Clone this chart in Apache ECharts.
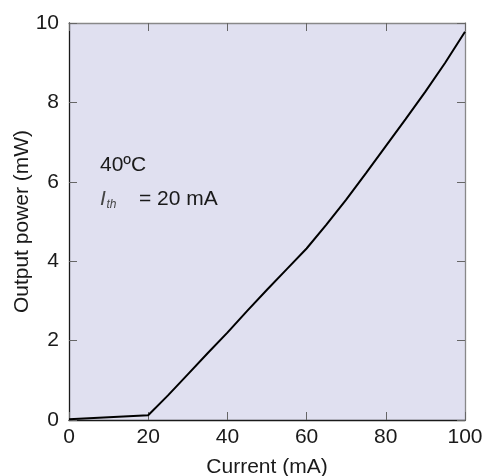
<!DOCTYPE html>
<html>
<head>
<meta charset="utf-8">
<script src="https://cdn.jsdelivr.net/npm/echarts@6/dist/echarts.min.js"></script>
<style>
  html, body { margin: 0; padding: 0; background: #fff; }
  #chart { width: 483px; height: 476px; }
</style>
</head>
<body>
<div id="chart"></div>
<script>
// Laser diode L-I curve at 40 °C
const currentMA = [0, 20, 25, 30, 35, 40, 45, 50, 55, 60, 65, 70, 75, 80, 85, 90, 95, 100];
const powerMW   = [0.02, 0.12, 0.62, 1.15, 1.68, 2.2, 2.75, 3.28, 3.8, 4.32, 4.92, 5.55, 6.22, 6.9, 7.58, 8.27, 9.0, 9.78];
const xTicks = [0, 20, 40, 60, 80, 100];
const yTicks = [0, 2, 4, 6, 8, 10];

const font = 'Liberation Sans, Arial, Helvetica, sans-serif';
const textColor = '#1a1a1a';
const chart = echarts.init(document.getElementById('chart'));

const tickStyle = { show: true, inside: true, length: 8, lineStyle: { color: '#666', width: 1 } };

chart.setOption({
  animation: false,
  grid: {
    left: 69, right: 18, top: 23, bottom: 56,
    containLabel: false, outerBoundsMode: 'none',
    show: true, backgroundColor: '#e0e0f0', borderWidth: 0
  },
  xAxis: [
    {
      type: 'value', min: xTicks[0], max: xTicks[xTicks.length - 1], interval: 20,
      name: 'Current (mA)', nameLocation: 'middle', nameGap: 37, nameMoveOverlap: false,
      nameTextStyle: { fontFamily: font, fontSize: 21, color: textColor },
      axisLine: { show: true, onZero: false, lineStyle: { color: '#1a1a1a', width: 1.3 } },
      axisTick: tickStyle,
      axisLabel: { margin: 7, fontFamily: font, fontSize: 21, color: textColor },
      splitLine: { show: false }
    },
    {
      type: 'value', position: 'top', min: 0, max: 100, interval: 20,
      axisLine: { show: true, onZero: false, lineStyle: { color: '#888', width: 1.3 } },
      axisTick: tickStyle, axisLabel: { show: false }, splitLine: { show: false }
    }
  ],
  yAxis: [
    {
      type: 'value', min: yTicks[0], max: yTicks[yTicks.length - 1], interval: 2,
      name: 'Output power (mW)', nameLocation: 'middle', nameGap: 36, nameMoveOverlap: false,
      nameTextStyle: { fontFamily: font, fontSize: 21, color: textColor },
      axisLine: { show: true, onZero: false, lineStyle: { color: '#1a1a1a', width: 1.3 } },
      axisTick: tickStyle,
      axisLabel: { margin: 10, fontFamily: font, fontSize: 21, color: textColor },
      splitLine: { show: false }
    },
    {
      type: 'value', position: 'right', min: 0, max: 10, interval: 2,
      axisLine: { show: true, onZero: false, lineStyle: { color: '#888', width: 1.3 } },
      axisTick: tickStyle, axisLabel: { show: false }, splitLine: { show: false }
    }
  ],
  series: [{
    type: 'line',
    xAxisIndex: 0, yAxisIndex: 0,
    data: currentMA.map((c, i) => [c, powerMW[i]]),
    showSymbol: false,
    smooth: false,
    lineStyle: { color: '#000', width: 2 },
    clip: false
  }],
  graphic: [
    {
      type: 'text', x: 100, y: 165.5,
      style: { text: '40ºC', font: '21px ' + font, fill: textColor, verticalAlign: 'middle' }
    },
    {
      type: 'text', x: 100, y: 199.5,
      style: { text: 'I', font: 'italic 21px ' + font, fill: '#444', verticalAlign: 'middle' }
    },
    {
      type: 'text', x: 106.5, y: 205,
      style: { text: 'th', font: 'italic 12px ' + font, fill: '#444', verticalAlign: 'middle' }
    },
    {
      type: 'text', x: 139, y: 199.5,
      style: { text: '= 20 mA', font: '21px ' + font, fill: textColor, verticalAlign: 'middle' }
    }
  ]
});
</script>
</body>
</html>
